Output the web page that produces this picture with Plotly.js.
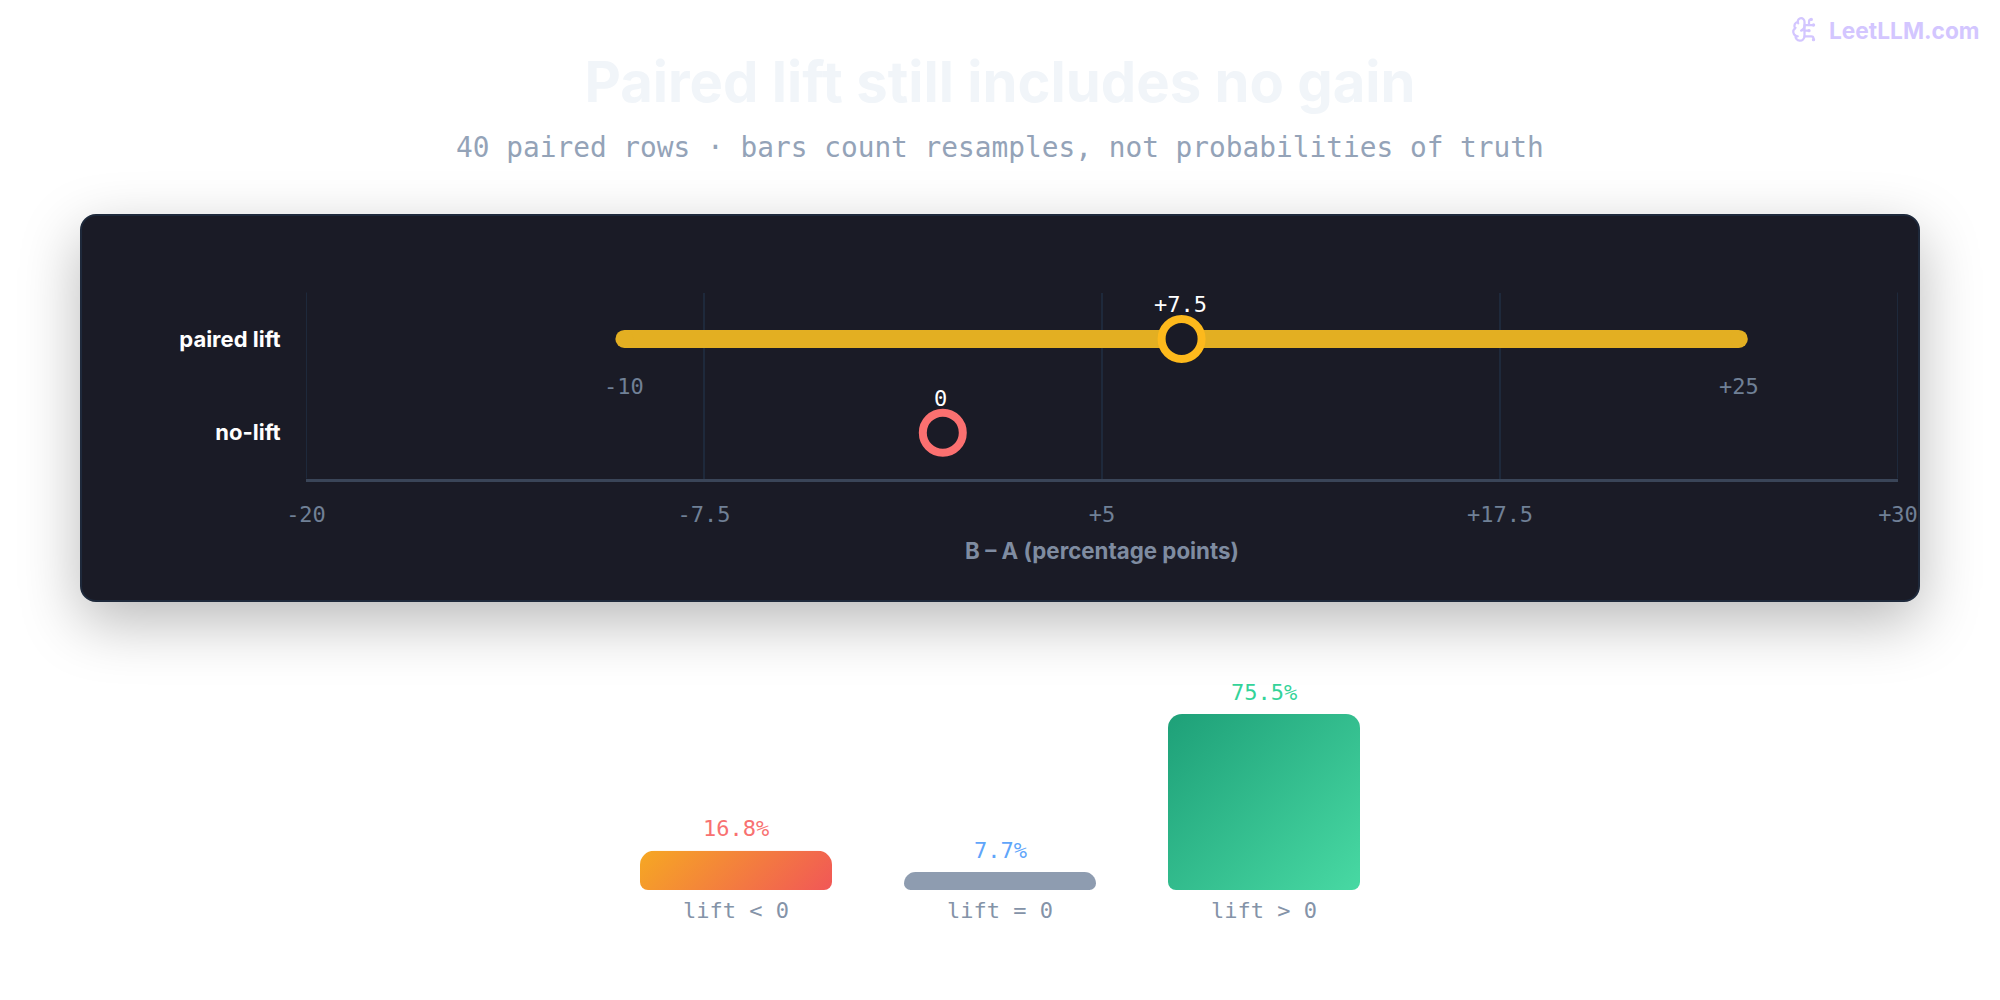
<!DOCTYPE html>
<html><head><meta charset="utf-8">
<script src="https://cdn.plot.ly/plotly-3.0.1.min.js"></script>
<style>
html,body{margin:0;padding:0;background:#fff;width:2000px;height:1000px;overflow:hidden}
#card{position:absolute;left:80px;top:214px;width:1836px;height:384px;background:#1a1b26;border:2px solid #1e293b;border-radius:16px;box-shadow:0 20px 60px rgba(0,0,0,.28)}
#chart{position:absolute;left:0;top:0;width:2000px;height:1000px}
#chart .bars .point path{clip-path:inset(0 round 14px 14px 8px 8px)}
#chart .bars .point:nth-child(1) path{fill:url(#gradNeg) !important}
#chart .bars .point:nth-child(3) path{fill:url(#gradPos) !important}
</style></head><body>
<div id="card"></div>
<svg width="0" height="0" style="position:absolute"><defs>
<linearGradient id="gradNeg" x1="-0.0765" y1="0.386" x2="1.0765" y2="0.614"><stop offset="0" stop-color="#f6a823"/><stop offset="1" stop-color="#f15757"/></linearGradient>
<linearGradient id="gradPos" x1="-0.0207" y1="0.0227" x2="1.0207" y2="0.977"><stop offset="0" stop-color="#1ea078"/><stop offset="1" stop-color="#48d9a3"/></linearGradient>
</defs></svg>
<div id="chart"></div>
<script>
const titleText = 'Paired lift still includes no gain';
const subtitleText = '40 paired rows · bars count resamples, not probabilities of truth';
const rows = ['paired lift', 'no-lift'];
const intervalBounds = [-10, 25];
const intervalLabels = ['-10', '+25'];
const pointValues = [7.5, 0];
const pointLabels = ['+7.5', '0'];
const xTickVals = [-20, -7.5, 5, 17.5, 30];
const xTickText = ['-20', '-7.5', '+5', '+17.5', '+30'];
const edgeGrid = [-20, 30];
const barCats = ['lift < 0', 'lift = 0', 'lift > 0'];
const barVals = [16.8, 7.7, 75.5];
const barLabels = ['16.8%', '7.7%', '75.5%'];
const barLabelColors = ['#f87171', '#60a5fa', '#34d399'];
const MONO = '"DejaVu Sans Mono", monospace';
const SANS = 'Inter, sans-serif';

const brain = `<svg xmlns="http://www.w3.org/2000/svg" viewBox="0 0 24 24" width="96" height="96" fill="none" stroke="#d3c6ff" stroke-width="2" stroke-linecap="round" stroke-linejoin="round"><path d="M12 5a3 3 0 1 0-5.997.125 4 4 0 0 0-2.526 5.77 4 4 0 0 0 .556 6.588A4 4 0 1 0 12 18Z"/><path d="M9 13a4.5 4.5 0 0 0 3-4"/><path d="M6.003 5.125A3 3 0 0 0 6.401 6.5"/><path d="M3.477 10.896a4 4 0 0 1 .585-.396"/><path d="M6 18a4 4 0 0 1-1.967-.516"/><path d="M12 13h4"/><path d="M12 18h6a2 2 0 0 1 2 2v1"/><path d="M12 8h8"/><path d="M16 8V5a2 2 0 0 1 2-2"/><circle cx="16" cy="13" r=".5"/><circle cx="18" cy="3" r=".5"/><circle cx="20" cy="21" r=".5"/><circle cx="20" cy="8" r=".5"/></svg>`;

const traces = [
  {type:'scatter', mode:'lines+markers', x:intervalBounds, y:[rows[0],rows[0]],
   line:{color:'#e3af22', width:18}, marker:{color:'#e3af22', size:18}, hoverinfo:'skip', showlegend:false},
  {type:'scatter', mode:'markers', x:pointValues, y:rows,
   marker:{size:40, color:'#1a1b26', line:{width:8, color:['#fdb91c','#fb7070']}}, hoverinfo:'skip', showlegend:false},
  {type:'bar', x:barCats, y:barVals, xaxis:'x2', yaxis:'y2', width:0.7273,
   marker:{color:['#f6a823','#8e9cb0','#48d9a3'], line:{width:0}}, hoverinfo:'skip', showlegend:false}
];

const anns = [
  {xref:'paper',yref:'paper',x:0.5,y:1-147/1000,yanchor:'middle',xanchor:'center',showarrow:false,text:subtitleText,font:{family:MONO,size:27.8,color:'#94a3b8'}},
  {xref:'paper',yref:'paper',x:1982/2000,y:1-30/1000,xanchor:'right',yanchor:'middle',showarrow:false,text:'LeetLLM.com',font:{family:SANS,size:22.7,weight:700,color:'#d3c6ff'}},
  {xref:'x',yref:'y',x:intervalBounds[0],y:rows[0],yshift:-48,showarrow:false,text:intervalLabels[0],font:{family:MONO,size:22,color:'#708096'}},
  {xref:'x',yref:'y',x:intervalBounds[1],y:rows[0],yshift:-48,showarrow:false,text:intervalLabels[1],font:{family:MONO,size:22,color:'#708096'}},
  {xref:'x',yref:'y',x:pointValues[0],y:rows[0],yshift:34,xshift:-1,showarrow:false,text:pointLabels[0],font:{family:MONO,size:22,color:'#ffffff'}},
  {xref:'x',yref:'y',x:pointValues[1],y:rows[1],yshift:34,xshift:-2,showarrow:false,text:pointLabels[1],font:{family:MONO,size:22,color:'#ffffff'}}
].concat(barCats.map((c,i)=>({xref:'x2',yref:'y2',x:c,y:barVals[i],yshift:22,showarrow:false,text:barLabels[i],font:{family:MONO,size:22,color:barLabelColors[i]}})));

const layout = {
  width:2000, height:1000, autosize:false, margin:{l:0,r:0,t:0,b:0,pad:0},
  paper_bgcolor:'rgba(0,0,0,0)', plot_bgcolor:'rgba(0,0,0,0)', showlegend:false,
  title:{text:titleText, x:0.5, xanchor:'center', y:1-82/1000, yanchor:'middle', font:{family:SANS,size:56.2,weight:700,color:'#f1f5f9'}},
  xaxis:{domain:[306/2000,1898/2000], range:[-20,30], tickmode:'array', tickvals:xTickVals, ticktext:xTickText,
    tickfont:{family:MONO,size:22,color:'#708096'}, ticks:'outside', ticklen:14, tickcolor:'rgba(0,0,0,0)', tickwidth:1,
    showgrid:true, gridcolor:'#1e293b', gridwidth:2, zeroline:false, showline:true, linecolor:'#3a4558', linewidth:3,
    anchor:'y', title:{text:'B – A (percentage points)', standoff:18, font:{family:SANS,size:22.3,weight:700,color:'#7f8ca1'}}},
  yaxis:{domain:[1-478.5/1000,1-292.5/1000], type:'category', categoryorder:'array', categoryarray:rows, range:[1.489,-0.495],
    tickfont:{family:SANS,size:22,weight:700,color:'#ffffff'}, ticks:'outside', ticklen:20, tickcolor:'rgba(0,0,0,0)',
    showgrid:false, zeroline:false, showline:false},
  xaxis2:{domain:[604/2000,1396/2000], range:[-0.5,2.5], type:'category', anchor:'y2', categoryorder:'array', categoryarray:barCats,
    tickfont:{family:MONO,size:22,color:'#8493a8'}, ticks:'outside', ticklen:1, tickcolor:'rgba(0,0,0,0)', showgrid:false, zeroline:false, showline:false},
  yaxis2:{domain:[1-890/1000,1-690/1000], range:[0,85.8], anchor:'x2', visible:false, fixedrange:true},
  shapes:edgeGrid.map(v=>({type:'line', xref:'x', yref:'y domain', x0:v, x1:v, y0:0, y1:1, layer:'below', line:{color:'#1e293b', width:2}})),
  annotations:anns,
  images:[{source:'data:image/svg+xml;utf8,'+encodeURIComponent(brain), xref:'paper', yref:'paper', x:1791/2000, y:1-16/1000, sizex:27/2000, sizey:27/1000, xanchor:'left', yanchor:'top', sizing:'contain', layer:'above'}]
};
Plotly.newPlot('chart', traces, layout, {displayModeBar:false, staticPlot:true});
</script>
</body></html>
